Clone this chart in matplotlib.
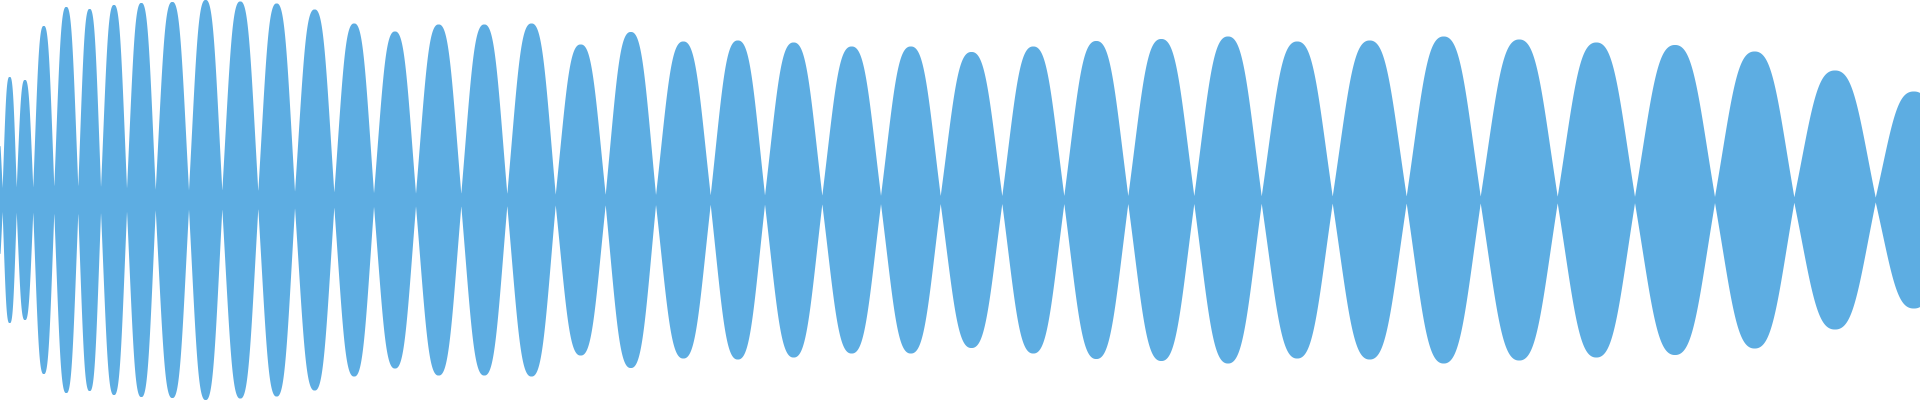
import numpy as np
import matplotlib
matplotlib.use("Agg")
import matplotlib.pyplot as plt
from numpy.lib.stride_tricks import sliding_window_view

# Zero-crossing positions of the waveform lobes (x, in samples/pixels)
crossings = [-8, 2.7, 16.7, 33.3, 54.3, 78.3, 101, 127, 155.7, 189, 222.3, 258.3,
             295, 334.3, 374, 416, 461.3, 507.3, 555.7, 605.7, 656, 710.7, 765,
             822.3, 881, 940.7, 1002.3, 1064.3, 1128.3, 1194.3, 1261.7, 1332.7,
             1406.7, 1480.7, 1557.7, 1635, 1715, 1794.3, 1875.7, 1952]

# Peak amplitude of each lobe (full scale = 200)
amplitudes = [70, 123, 120, 174, 193, 191, 195, 197, 198, 200, 198.5, 196.5,
              190.5, 176.5, 168.5, 175.5, 175.5, 176.5, 155.5, 168, 158.5, 159.5,
              157.5, 153.5, 153.5, 148, 153.5, 159, 161, 163.5, 158.5, 159.5,
              163.5, 160.5, 157.5, 155, 148.5, 129.5, 108.5]

color = "#5DADE2"
sub = 8
x = np.linspace(0, 1920, 1920 * sub + 1)
env = np.zeros_like(x)
for c0, c1, a in zip(crossings[:-1], crossings[1:], amplitudes):
    m = (x >= c0) & (x <= c1)
    s = np.abs(np.sin(np.pi * (x[m] - c0) / (c1 - c0)))
    shape = s + 0.55 * s**3 * (1 - s)  # slightly rounded lobe cap
    env[m] = np.maximum(env[m], a * shape)

# per-pixel-column min/max look (waveform rendering)
pad = sub // 2
padded = np.pad(env, pad, mode="edge")
top = sliding_window_view(padded, 2 * pad + 1).max(axis=1)

fig = plt.figure(figsize=(19.2, 4), dpi=100)
ax = fig.add_axes([0, 0, 1, 1])
ax.fill_between(x, -top, top, color=color, linewidth=0)
ax.set_xlim(0, 1920)
ax.set_ylim(-200, 200)
ax.axis("off")
fig.savefig("out.png", dpi=100, facecolor="white")
